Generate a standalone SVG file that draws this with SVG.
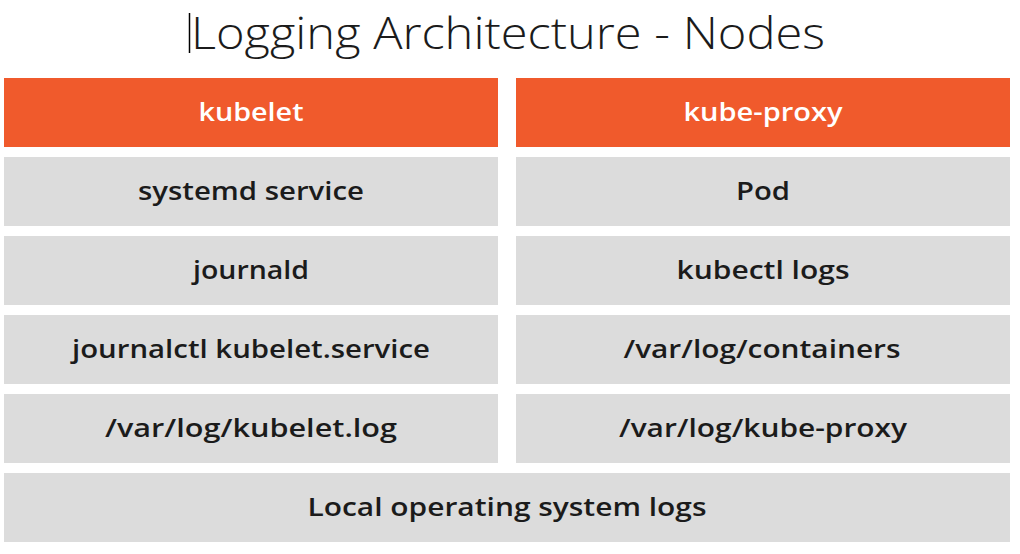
<svg xmlns="http://www.w3.org/2000/svg" width="1020" height="554" viewBox="0 0 1020 554">
<style>
.hd{fill:#F05A2C}
.bx{fill:#DCDCDC}
.t{font-family:"Open Sans","Liberation Sans",sans-serif;font-size:26px;font-weight:600;text-anchor:middle;fill:#1b1b1b}
.w{fill:#ffffff}
.title{font-family:"Open Sans","Liberation Sans",sans-serif;font-size:45px;font-weight:300;fill:#1b1b1b}
</style>
<rect width="1020" height="554" fill="#ffffff"/>
<line x1="189.5" y1="13" x2="189.5" y2="53" stroke="#000" stroke-width="1.5"/>
<text class="title" x="191" y="49" textLength="634" lengthAdjust="spacingAndGlyphs">Logging Architecture - Nodes</text>
<g id="kubelet"><rect class="hd" x="4" y="78" width="494" height="69"/><text class="t w" x="251" y="121" textLength="105" lengthAdjust="spacingAndGlyphs">kubelet</text></g>
<g id="kube-proxy"><rect class="hd" x="516" y="78" width="494" height="69"/><text class="t w" x="763" y="121" textLength="159" lengthAdjust="spacingAndGlyphs">kube-proxy</text></g>
<g id="systemd"><rect class="bx" x="4" y="157" width="494" height="69"/><text class="t" x="251" y="200" textLength="226" lengthAdjust="spacingAndGlyphs">systemd service</text></g>
<g id="pod"><rect class="bx" x="516" y="157" width="494" height="69"/><text class="t" x="763" y="200" textLength="54" lengthAdjust="spacingAndGlyphs">Pod</text></g>
<g id="journald"><rect class="bx" x="4" y="236" width="494" height="69"/><text class="t" x="251" y="279" textLength="116" lengthAdjust="spacingAndGlyphs">journald</text></g>
<g id="kubectl-logs"><rect class="bx" x="516" y="236" width="494" height="69"/><text class="t" x="763" y="279" textLength="173" lengthAdjust="spacingAndGlyphs">kubectl logs</text></g>
<g id="journalctl"><rect class="bx" x="4" y="315" width="494" height="69"/><text class="t" x="251" y="358" textLength="358" lengthAdjust="spacingAndGlyphs">journalctl kubelet.service</text></g>
<g id="containers"><rect class="bx" x="516" y="315" width="494" height="69"/><text class="t" x="762" y="358" textLength="277" lengthAdjust="spacingAndGlyphs">/var/log/containers</text></g>
<g id="kubelet-log"><rect class="bx" x="4" y="394" width="494" height="69"/><text class="t" x="251" y="437" textLength="292" lengthAdjust="spacingAndGlyphs">/var/log/kubelet.log</text></g>
<g id="kube-proxy-log"><rect class="bx" x="516" y="394" width="494" height="69"/><text class="t" x="763" y="437" textLength="288" lengthAdjust="spacingAndGlyphs">/var/log/kube-proxy</text></g>
<g id="local-os"><rect class="bx" x="4" y="473" width="1006" height="69"/><text class="t" x="507" y="516" textLength="399" lengthAdjust="spacingAndGlyphs">Local operating system logs</text></g>
<g id="connectors"/>
</svg>
